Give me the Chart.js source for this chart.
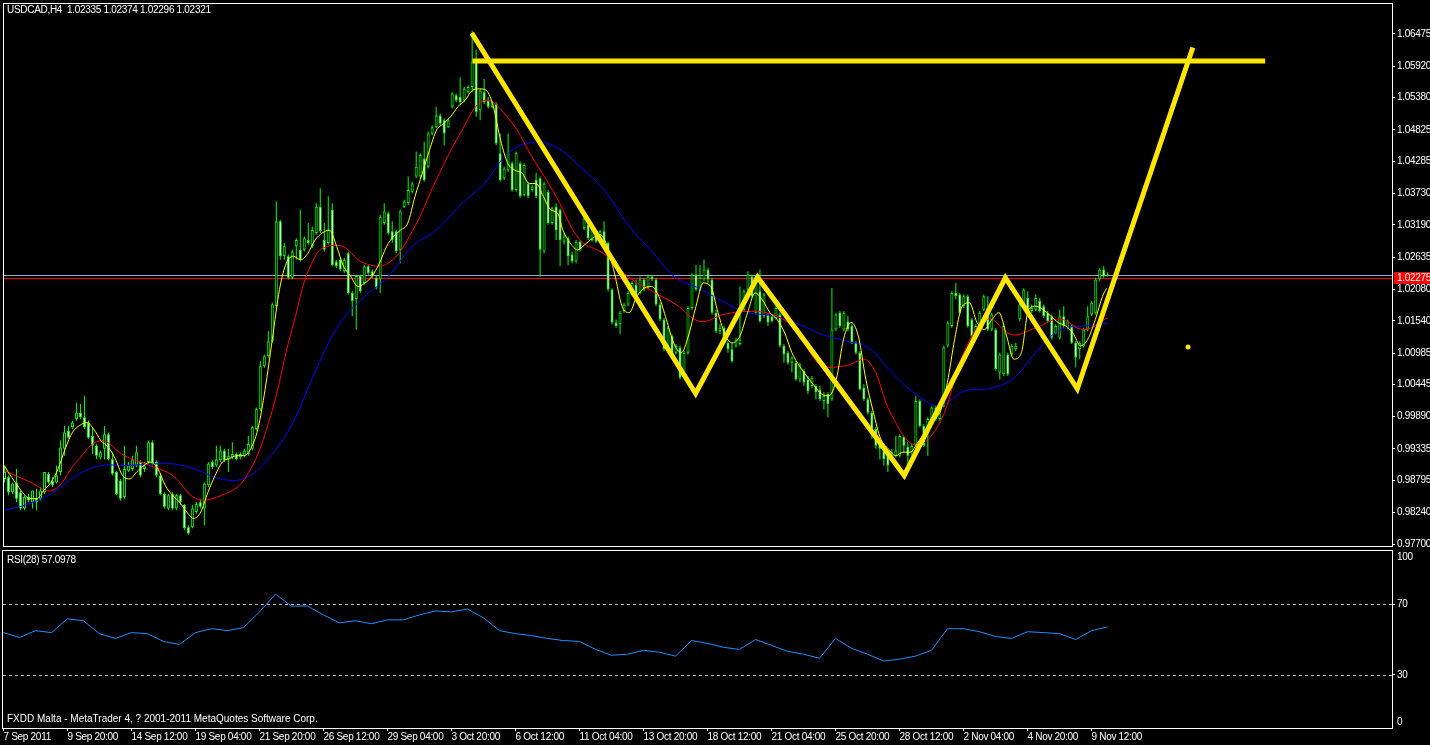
<!DOCTYPE html>
<html>
<head>
<meta charset="utf-8">
<script src="https://cdn.jsdelivr.net/npm/chart.js@4.4.0/dist/chart.umd.min.js"></script>
<style>
  html, body { margin: 0; padding: 0; background: #000; }
  body { width: 1430px; height: 745px; position: relative; overflow: hidden; font-family: "Liberation Sans", Arial, sans-serif; }
  canvas { position: absolute; left: 0; }
  #main { top: 0; }
  #rsi { top: 550px; }
  .label { position: absolute; color: #fff; font-size: 10px; line-height: 12px; white-space: pre; letter-spacing: -0.3px; }
</style>
</head>
<body>
<canvas id="main" width="1430" height="550"></canvas>
<canvas id="rsi" width="1430" height="195"></canvas>
<div class="label" style="left:7px; top:4px">USDCAD,H4  1.02335 1.02374 1.02296 1.02321</div>
<div class="label" style="left:7px; top:554px">RSI(28) 57.0978</div>
<div class="label" style="left:7px; top:713px; letter-spacing:0">FXDD Malta - MetaTrader 4, ? 2001-2011 MetaQuotes Software Corp.</div>
<script>
// H4 candles, one entry per bar (bar 0 = first visible bar)
const opens = [
  0.9882,0.9885,0.9859,0.9876,0.9859,0.9831,0.9851,0.9842,0.9848,0.9848,
  0.9859,0.9891,0.9879,0.9876,0.9894,0.9934,0.9965,0.9971,0.9985,0.9996,
  0.9988,0.9979,0.9956,0.9939,0.9919,0.9934,0.9959,0.9916,0.9894,0.9879,
  0.9851,0.9896,0.9899,0.9905,0.9911,0.9899,0.9911,0.9945,0.9911,0.9888,
  0.9856,0.9831,0.9856,0.9831,0.9854,0.9837,0.9799,0.9799,0.9825,0.9842,
  0.9831,0.9871,0.9911,0.9905,0.9914,0.9931,0.9916,0.9919,0.9925,0.9919,
  0.9922,0.9925,0.9934,0.9968,1.0002,1.0076,1.0093,1.0119,1.0179,1.0325,
  1.0265,1.0265,1.0228,1.0282,1.0276,1.0276,1.0293,1.0282,1.0305,1.0350,
  1.0293,1.0288,1.0345,1.0256,1.0259,1.0239,1.0270,1.0202,1.0191,1.0231,
  1.0219,1.0248,1.0239,1.0228,1.0225,1.0322,1.0339,1.0308,1.0308,1.0276,
  1.0350,1.0356,1.0376,1.0402,1.0402,1.0433,1.0419,1.0476,1.0487,1.0507,
  1.0499,1.0487,1.0522,1.0542,1.0539,1.0533,1.0547,1.0556,1.0600,1.0516,
  1.0547,1.0533,1.0522,1.0527,1.0442,1.0399,1.0413,1.0425,1.0379,1.0425,
  1.0370,1.0390,1.0379,1.0396,1.0399,1.0273,1.0376,1.0322,1.0350,1.0345,
  1.0290,1.0296,1.0268,1.0256,1.0290,1.0313,1.0319,1.0293,1.0308,1.0290,
  1.0308,1.0288,1.0208,1.0151,1.0148,1.0171,1.0182,1.0199,1.0216,1.0202,
  1.0225,1.0210,1.0230,1.0225,1.0182,1.0156,1.0111,1.0128,1.0099,1.0108,
  1.0065,1.0099,1.0176,1.0233,1.0208,1.0225,1.0242,1.0225,1.0168,1.0136,
  1.0142,1.0116,1.0105,1.0111,1.0114,1.0173,1.0208,1.0230,1.0168,1.0205,
  1.0162,1.0165,1.0162,1.0159,1.0165,1.0111,1.0099,1.0082,1.0082,1.0053,
  1.0068,1.0053,1.0042,1.0042,1.0036,1.0016,1.0028,1.0019,1.0139,1.0168,
  1.0139,1.0153,1.0145,1.0116,1.0099,1.0039,1.0019,0.9996,0.9968,0.9945,
  0.9939,0.9928,0.9916,0.9922,0.9922,0.9954,0.9937,0.9928,0.9939,1.0016,
  0.9973,0.9962,0.9985,1.0005,0.9985,1.0008,1.0111,1.0145,1.0202,1.0199,
  1.0179,1.0196,1.0156,1.0128,1.0145,1.0173,1.0176,1.0139,1.0139,1.0065,
  1.0062,1.0096,1.0096,1.0105,1.0156,1.0179,1.0193,1.0171,1.0173,1.0188,
  1.0179,1.0168,1.0162,1.0133,1.0125,1.0162,1.0142,1.0145,1.0116,1.0105,
  1.0111,1.0139,1.0165,1.0168,1.0225,1.0242,1.02335
];
const highs = [
  0.9905,0.9888,0.9876,0.9899,0.9862,0.9854,0.9856,0.9862,0.9865,0.9868,
  0.9894,0.9894,0.9885,0.9905,0.9948,0.9973,0.9973,0.9982,1.0013,1.0011,
  1.0025,0.9982,0.9971,0.9942,0.9931,0.9973,0.9962,0.9928,0.9896,0.9882,
  0.9939,0.9911,0.9922,0.9939,0.9914,0.9911,0.9948,0.9948,0.9914,0.9891,
  0.9859,0.9856,0.9859,0.9856,0.9856,0.9839,0.9802,0.9837,0.9842,0.9848,
  0.9876,0.9911,0.9914,0.9939,0.9939,0.9934,0.9934,0.9945,0.9928,0.9928,
  0.9934,0.9956,0.9973,1.0005,1.0085,1.0096,1.0136,1.0185,1.0359,1.0328,
  1.0288,1.0268,1.0276,1.0296,1.0345,1.0299,1.0322,1.0316,1.0356,1.0382,
  1.0322,1.0368,1.0356,1.0259,1.0262,1.0262,1.0273,1.0205,1.0233,1.0233,
  1.0250,1.0250,1.0242,1.0231,1.0336,1.0356,1.0342,1.0325,1.0310,1.0345,
  1.0362,1.0402,1.0393,1.0445,1.0442,1.0462,1.0479,1.0490,1.0522,1.0510,
  1.0502,1.0502,1.0547,1.0545,1.0573,1.0556,1.0559,1.0653,1.0620,1.0553,
  1.0570,1.0539,1.0533,1.0530,1.0476,1.0419,1.0476,1.0428,1.0445,1.0428,
  1.0425,1.0393,1.0388,1.0408,1.0402,1.0393,1.0379,1.0350,1.0356,1.0347,
  1.0305,1.0299,1.0273,1.0293,1.0293,1.0333,1.0325,1.0316,1.0310,1.0310,
  1.0325,1.0290,1.0210,1.0156,1.0171,1.0185,1.0205,1.0222,1.0225,1.0230,
  1.0228,1.0233,1.0233,1.0228,1.0185,1.0159,1.0145,1.0131,1.0114,1.0111,
  1.0102,1.0179,1.0236,1.0250,1.0250,1.0259,1.0245,1.0228,1.0173,1.0148,
  1.0145,1.0119,1.0116,1.0125,1.0213,1.0208,1.0239,1.0233,1.0233,1.0242,
  1.0202,1.0168,1.0165,1.0179,1.0168,1.0114,1.0102,1.0093,1.0085,1.0082,
  1.0071,1.0059,1.0059,1.0045,1.0042,1.0031,1.0031,1.0210,1.0168,1.0171,
  1.0171,1.0162,1.0148,1.0119,1.0102,1.0045,1.0022,0.9999,0.9971,0.9948,
  0.9942,0.9931,0.9934,0.9956,0.9959,0.9956,0.9945,0.9942,1.0025,1.0019,
  0.9976,0.9988,1.0008,1.0008,1.0011,1.0111,1.0153,1.0205,1.0219,1.0202,
  1.0199,1.0199,1.0159,1.0148,1.0171,1.0199,1.0196,1.0168,1.0142,1.0099,
  1.0148,1.0099,1.0114,1.0116,1.0185,1.0210,1.0205,1.0182,1.0199,1.0193,
  1.0182,1.0171,1.0165,1.0148,1.0173,1.0179,1.0156,1.0148,1.0119,1.0119,
  1.0142,1.0179,1.0188,1.0228,1.0245,1.0248,1.02374
];
const lows = [
  0.9876,0.9854,0.9856,0.9842,0.9828,0.9828,0.9842,0.9831,0.9828,0.9845,
  0.9856,0.9874,0.9868,0.9874,0.9888,0.9922,0.9951,0.9968,0.9982,0.9985,
  0.9968,0.9951,0.9925,0.9916,0.9916,0.9916,0.9914,0.9888,0.9854,0.9845,
  0.9848,0.9894,0.9896,0.9902,0.9885,0.9894,0.9908,0.9905,0.9885,0.9854,
  0.9831,0.9828,0.9828,0.9828,0.9837,0.9794,0.9786,0.9797,0.9822,0.9831,
  0.9802,0.9868,0.9899,0.9902,0.9911,0.9911,0.9894,0.9916,0.9914,0.9916,
  0.9919,0.9922,0.9931,0.9965,0.9999,1.0073,1.0091,1.0116,1.0176,1.0259,
  1.0259,1.0225,1.0225,1.0259,1.0256,1.0273,1.0285,1.0279,1.0302,1.0305,
  1.0273,1.0285,1.0248,1.0245,1.0239,1.0236,1.0199,1.0162,1.0139,1.0202,
  1.0216,1.0233,1.0228,1.0208,1.0202,1.0319,1.0302,1.0288,1.0270,1.0253,
  1.0348,1.0353,1.0373,1.0399,1.0399,1.0393,1.0416,1.0473,1.0485,1.0490,
  1.0456,1.0485,1.0519,1.0530,1.0527,1.0530,1.0545,1.0547,1.0505,1.0499,
  1.0527,1.0519,1.0519,1.0456,1.0393,1.0396,1.0410,1.0376,1.0376,1.0365,
  1.0368,1.0365,1.0376,1.0365,1.0230,1.0270,1.0319,1.0319,1.0293,1.0248,
  1.0285,1.0250,1.0253,1.0253,1.0273,1.0310,1.0293,1.0290,1.0288,1.0288,
  1.0285,1.0205,1.0148,1.0142,1.0131,1.0168,1.0179,1.0196,1.0193,1.0199,
  1.0205,1.0208,1.0222,1.0179,1.0153,1.0102,1.0108,1.0091,1.0096,1.0053,
  1.0059,1.0096,1.0173,1.0205,1.0205,1.0222,1.0219,1.0165,1.0133,1.0131,
  1.0114,1.0099,1.0082,1.0108,1.0111,1.0171,1.0205,1.0193,1.0165,1.0151,
  1.0159,1.0145,1.0151,1.0156,1.0108,1.0082,1.0079,1.0065,1.0051,1.0048,
  1.0042,1.0028,1.0039,1.0019,1.0016,1.0002,0.9988,1.0016,1.0136,1.0142,
  1.0136,1.0136,1.0114,1.0096,1.0034,1.0016,0.9993,0.9951,0.9934,0.9916,
  0.9905,0.9894,0.9911,0.9919,0.9919,0.9928,0.9894,0.9922,0.9937,0.9971,
  0.9937,0.9922,0.9982,0.9982,0.9982,1.0005,1.0108,1.0142,1.0191,1.0165,
  1.0176,1.0142,1.0125,1.0125,1.0142,1.0171,1.0136,1.0136,1.0068,1.0053,
  1.0059,1.0059,1.0093,1.0102,1.0153,1.0176,1.0168,1.0168,1.0171,1.0168,
  1.0159,1.0151,1.0122,1.0131,1.0122,1.0142,1.0139,1.0114,1.0074,1.0088,
  1.0108,1.0136,1.0162,1.0165,1.0222,1.0228,1.02296
];
const closes = [
  0.9894,0.9859,0.9874,0.9848,0.9831,0.9851,0.9845,0.9862,0.9842,0.9862,
  0.9894,0.9876,0.9871,0.9888,0.9936,0.9962,0.9953,0.9979,0.9996,0.9988,
  0.9971,0.9953,0.9939,0.9922,0.9928,0.9959,0.9916,0.9891,0.9856,0.9848,
  0.9899,0.9905,0.9916,0.9928,0.9888,0.9905,0.9945,0.9908,0.9888,0.9856,
  0.9834,0.9854,0.9831,0.9854,0.9842,0.9797,0.9788,0.9831,0.9839,0.9834,
  0.9874,0.9908,0.9902,0.9916,0.9931,0.9914,0.9922,0.9925,0.9916,0.9925,
  0.9931,0.9942,0.9971,1.0002,1.0076,1.0093,1.0119,1.0182,1.0325,1.0265,
  1.0282,1.0228,1.0273,1.0293,1.0259,1.0296,1.0288,1.0310,1.0350,1.0308,
  1.0276,1.0310,1.0250,1.0248,1.0242,1.0259,1.0202,1.0188,1.0231,1.0205,
  1.0248,1.0236,1.0231,1.0211,1.0333,1.0342,1.0305,1.0293,1.0273,1.0342,
  1.0359,1.0379,1.0390,1.0419,1.0439,1.0396,1.0476,1.0487,1.0507,1.0493,
  1.0476,1.0499,1.0545,1.0533,1.0530,1.0553,1.0556,1.0600,1.0513,1.0550,
  1.0530,1.0522,1.0530,1.0459,1.0396,1.0416,1.0442,1.0379,1.0442,1.0368,
  1.0422,1.0368,1.0385,1.0368,1.0276,1.0390,1.0322,1.0347,1.0310,1.0293,
  1.0299,1.0265,1.0256,1.0290,1.0276,1.0330,1.0296,1.0313,1.0290,1.0308,
  1.0288,1.0208,1.0151,1.0145,1.0168,1.0182,1.0202,1.0219,1.0196,1.0225,
  1.0208,1.0230,1.0225,1.0182,1.0156,1.0105,1.0142,1.0093,1.0111,1.0056,
  1.0099,1.0176,1.0233,1.0208,1.0228,1.0242,1.0225,1.0168,1.0136,1.0142,
  1.0116,1.0105,1.0085,1.0122,1.0122,1.0205,1.0233,1.0196,1.0230,1.0153,
  1.0199,1.0151,1.0153,1.0176,1.0111,1.0096,1.0082,1.0091,1.0053,1.0079,
  1.0048,1.0033,1.0056,1.0031,1.0019,1.0025,1.0011,1.0139,1.0165,1.0145,
  1.0168,1.0139,1.0116,1.0099,1.0036,1.0019,0.9996,0.9968,0.9939,0.9934,
  0.9916,0.9905,0.9928,0.9931,0.9956,0.9939,0.9922,0.9939,1.0016,0.9973,
  0.9939,0.9985,1.0005,0.9985,1.0008,1.0108,1.0151,1.0202,1.0196,1.0168,
  1.0196,1.0145,1.0128,1.0145,1.0168,1.0196,1.0139,1.0165,1.0071,1.0096,
  1.0145,1.0062,1.0111,1.0111,1.0182,1.0208,1.0171,1.0176,1.0193,1.0171,
  1.0162,1.0153,1.0125,1.0145,1.0162,1.0145,1.0153,1.0116,1.0091,1.0116,
  1.0139,1.0162,1.0185,1.0225,1.0242,1.0230,1.02321
];

// fast moving average (yellow), read at these bar positions
const yellowBars = [
  0,0.9,2.7,4.5,6.3,8.1,9.8,11.6,13.4,15.2,17.0,18.8,20.6,22.3,24.1,25.9,27.7,29.5,31.3,33.1,
  34.8,36.6,38.4,40.2,42.0,43.8,45.6,47.3,49.1,50.9,52.7,54.5,56.3,58.1,59.8,61.6,63.4,65.2,67.0,68.8,
  70.5,72.3,74.1,75.9,77.7,79.5,81.3,83.1,84.8,86.6,88.4,90.2,92.0,93.8,95.6,97.3,99.1,100.9,102.7,104.5,
  106.3,108.1,109.8,111.6,113.4,115.2,117.0,118.8,120.6,122.3,124.1,125.9,127.7,129.5,131.3,133.0,134.8,136.6,138.4,
  139.7,141.5,143.4,145.2,147.1,149.0,150.8,152.6,154.5,156.3,158.2,160.0,161.9,163.7,165.6,167.4,169.3,171.1,173.0,174.8,
  176.7,178.5,180.4,182.2,184.0,185.9,187.8,189.6,191.5,193.3,195.2,197.0,198.9,200.7,202.6,204.4,206.3,208.1,209.9,211.8,
  213.6,215.5,217.4,219.2,221.1,222.9,224.8,226.6,228.5,230.3,232.2,234.0,235.9,237.7,239.6,241.4,243.3,245.1,247.0,248.8,
  250.7,252.5,254.4,256.2,258.1,259.9,261.8,263.6,265.5,267.3,269.2,271.0,272.9,274.7,275.7
];
const yellowMA = [
  0.9905,0.9894,0.9876,0.9859,0.9848,0.9848,0.9862,0.9876,0.9899,0.9934,0.9962,0.9974,0.9979,0.9968,0.9948,0.9937,0.9917,0.9888,0.9882,0.9894,
  0.9905,0.9911,0.9899,0.9871,0.9854,0.9842,0.9825,0.9814,0.9825,0.9859,0.9888,0.9911,0.9917,0.9922,0.9922,0.9934,0.9968,1.0036,1.0122,1.0208,
  1.0253,1.0265,1.0259,1.0270,1.0293,1.0305,1.0310,1.0282,1.0248,1.0231,1.0213,1.0219,1.0231,1.0253,1.0282,1.0299,1.0310,1.0322,1.0368,1.0407,
  1.0447,1.0482,1.0493,1.0505,1.0522,1.0533,1.0550,1.0553,1.0550,1.0522,1.0465,1.0425,1.0413,1.0408,1.0390,1.0390,1.0368,1.0345,1.0339,
  1.0310,1.0288,1.0276,1.0285,1.0296,1.0302,1.0282,1.0236,1.0179,1.0168,1.0196,1.0210,1.0213,1.0196,1.0156,1.0116,1.0099,1.0128,1.0179,1.0219,
  1.0213,1.0168,1.0128,1.0116,1.0128,1.0168,1.0202,1.0190,1.0168,1.0156,1.0133,1.0099,1.0076,1.0059,1.0042,1.0028,1.0025,1.0053,1.0122,1.0151,
  1.0128,1.0053,0.9996,0.9951,0.9934,0.9922,0.9928,0.9928,0.9945,0.9962,0.9985,0.9996,1.0048,1.0122,1.0179,1.0185,1.0151,1.0139,1.0156,1.0168,
  1.0128,1.0088,1.0099,1.0173,1.0179,1.0173,1.0162,1.0151,1.0145,1.0133,1.0111,1.0122,1.0156,1.0196,1.0210
];
// slower averages, one value every 6 bars
const redStep = 6;
const redMA = [
  0.9896,0.9878,0.9862,0.9911,0.9948,0.9922,0.9906,0.9888,0.9848,0.9853,
  0.9881,0.9977,1.0141,1.0268,1.0283,1.0253,1.0253,1.0308,1.0396,1.0476,
  1.0533,1.0503,1.0436,1.0368,1.0293,1.0269,1.0230,1.0205,1.0182,1.0153,
  1.0165,1.0170,1.0165,1.0139,1.0079,1.0076,1.0085,0.9991,0.9940,0.9979,
  1.0099,1.0157,1.0130,1.0142,1.0157,1.0139,1.0159
];
const blueStep = 6;
const blueMA = [
  0.9828,0.9839,0.9858,0.9888,0.9905,0.9905,0.9907,0.9908,0.9898,0.9882,
  0.9883,0.9917,0.9977,1.0071,1.0151,1.0195,1.0230,1.0282,1.0310,1.0353,
  1.0390,1.0442,1.0461,1.0453,1.0419,1.0379,1.0319,1.0273,1.0228,1.0209,
  1.0186,1.0168,1.0163,1.0150,1.0132,1.0120,1.0108,1.0065,1.0028,1.0008,
  1.0033,1.0037,1.0053,1.0099,1.0138,1.0145,1.0150
];

// RSI(28), one value every 4 bars
const rsiStep = 4;
const rsiValues = [
  53.9,51.1,55.0,53.9,61.7,60.6,53.3,50.6,53.9,53.3,
  48.9,47.2,53.9,56.1,55.0,56.7,65.6,75.6,68.9,68.9,
  63.9,59.4,60.6,58.9,61.1,61.1,63.9,66.1,65.6,67.2,
  62.2,55.0,53.3,52.2,50.6,49.4,48.9,44.4,41.1,41.7,
  43.9,42.8,40.6,49.4,47.8,45.6,44.4,50.0,46.7,43.3,
  41.7,39.4,50.6,45.0,41.7,37.8,38.9,40.6,43.9,56.1,
  56.1,54.4,51.7,50.6,54.4,53.9,53.3,50.0,55.0,57.1
];
const rsiLevels = [30, 70];

// hand drawn objects (bar, price)
const patternBars = [116.9, 172.9, 188.4, 225.1, 250.4, 268.4, 297.3];
const patternPrices = [1.0649, 1.0029, 1.0229, 0.9888, 1.0228, 1.0037, 1.0624];
const targetBars = [117.1, 315.4];
const targetPrice = 1.0601;
const dotBar = 296.1;
const dotPrice = 1.0109;

const bidPrice = 1.02321;
const markPrice = 1.02275;

const priceTicks = [1.06475,1.05920,1.05380,1.04825,1.04285,1.03730,1.03190,1.02635,
  1.02080,1.01540,1.00985,1.00445,0.99890,0.99335,0.98795,0.98240,0.97700];
const timeTickBars = [0,16,32,48,64,80,96,112,128,144,160,176,192,208,224,240,256,272];
const timeTickLabels = ["7 Sep 2011","9 Sep 20:00","14 Sep 12:00","19 Sep 04:00","21 Sep 20:00",
  "26 Sep 12:00","29 Sep 04:00","3 Oct 20:00","6 Oct 12:00","11 Oct 04:00","13 Oct 20:00",
  "18 Oct 12:00","21 Oct 04:00","25 Oct 20:00","28 Oct 12:00","2 Nov 04:00","4 Nov 20:00","9 Nov 12:00"];

const BAR_MIN = -0.125, BAR_MAX = 347.125;
const LIME = '#00ff00', GOLD = '#ffe600';
const FONT = '10px "Liberation Sans", Arial, sans-serif';

Chart.defaults.font.family = '"Liberation Sans", Arial, sans-serif';
Chart.defaults.font.size = 10;
Chart.defaults.color = '#ffffff';

const idx = closes.map((_, i) => i);
const wickData = idx.map(i => ({ x: i, y: [lows[i], highs[i]] }));
const bodyData = idx.map(i => ({ x: i, y: [Math.min(opens[i], closes[i]), Math.max(opens[i], closes[i])] }));
const bodyFill = idx.map(i => closes[i] >= opens[i] ? '#000000' : '#ffffff');
const sampled = (vals, step) => vals.map((v, k) => ({ x: k * step, y: v }));

// narrower text, closer to the terminal font
const tightText = {
  id: 'tightText',
  beforeDraw(chart) { chart.ctx.letterSpacing = '-0.3px'; }
};

const mainFrame = {
  id: 'mainFrame',
  beforeDatasetsDraw(chart) {
    const { ctx, chartArea: a, scales: { y } } = chart;
    ctx.save();
    ctx.lineWidth = 1;
    [[bidPrice, '#9aa8ba'], [markPrice, '#ff0000']].forEach(([p, c]) => {
      const py = Math.round(y.getPixelForValue(p)) + 0.5;
      ctx.strokeStyle = c;
      ctx.beginPath(); ctx.moveTo(a.left, py); ctx.lineTo(a.right, py); ctx.stroke();
    });
    ctx.restore();
  },
  afterDraw(chart) {
    const { ctx, chartArea: a, scales: { y } } = chart;
    ctx.save();
    ctx.strokeStyle = '#ffffff';
    ctx.lineWidth = 1;
    ctx.strokeRect(a.left - 0.5, a.top - 0.5, a.right - a.left + 1, a.bottom - a.top + 1);
    const py = Math.round(y.getPixelForValue(markPrice));
    ctx.fillStyle = '#ff0000';
    ctx.fillRect(a.right + 2, py - 6, 1430 - a.right - 2, 12);
    ctx.fillStyle = '#ffffff';
    ctx.font = FONT;
    ctx.textBaseline = 'middle';
    ctx.fillText(markPrice.toFixed(5), a.right + 5, py);
    ctx.restore();
  }
};

new Chart(document.getElementById('main'), {
  type: 'bar',
  data: {
    datasets: [
      { type: 'line', data: patternBars.map((b, k) => ({ x: b, y: patternPrices[k] })),
        borderColor: GOLD, borderWidth: 5, pointRadius: 0, borderJoinStyle: 'miter', order: 1 },
      { type: 'line', data: targetBars.map(b => ({ x: b, y: targetPrice })),
        borderColor: GOLD, borderWidth: 5, pointRadius: 0, order: 1 },
      { type: 'line', data: [{ x: dotBar, y: dotPrice }], showLine: false,
        pointRadius: 2.5, pointBackgroundColor: GOLD, pointBorderWidth: 0, order: 1 },
      { type: 'line', data: yellowBars.map((b, k) => ({ x: b, y: yellowMA[k] })), borderColor: '#ffff00',
        borderWidth: 1, pointRadius: 0, cubicInterpolationMode: 'monotone', order: 3 },
      { type: 'line', data: sampled(redMA, redStep), borderColor: '#ff0000', borderWidth: 1, pointRadius: 0, tension: 0.4, order: 4 },
      { type: 'line', data: sampled(blueMA, blueStep), borderColor: '#0000ff', borderWidth: 1, pointRadius: 0, tension: 0.4, order: 5 },
      { data: bodyData, backgroundColor: bodyFill, borderColor: LIME, borderWidth: 1, borderSkipped: false,
        grouped: false, barThickness: 3, maxBarThickness: 3, barPercentage: 0.75, categoryPercentage: 1,
        inflateAmount: 0, order: 8 },
      { data: wickData, backgroundColor: LIME, borderWidth: 0,
        grouped: false, barThickness: 1, maxBarThickness: 1, barPercentage: 0.75, categoryPercentage: 1,
        inflateAmount: 0, order: 9 }
    ]
  },
  options: {
    responsive: false,
    animation: false,
    devicePixelRatio: 1,
    events: [],
    layout: { padding: { left: 3, top: 3, right: 0, bottom: 3 } },
    plugins: { legend: { display: false }, tooltip: { enabled: false } },
    scales: {
      x: { type: 'linear', min: BAR_MIN, max: BAR_MAX, display: false, offset: false },
      y: {
        type: 'linear', position: 'right', min: 0.97666, max: 1.06989, beginAtZero: false,
        afterBuildTicks: s => { s.ticks = priceTicks.map(v => ({ value: v })); },
        afterFit: s => { s.width = 38; s.paddingTop = 0; s.paddingBottom = 0; },
        ticks: { color: '#ffffff', padding: 2, autoSkip: false, callback: v => v.toFixed(5) },
        grid: { drawOnChartArea: false, drawTicks: true, tickLength: 3, color: '#ffffff' },
        border: { display: false }
      }
    }
  },
  plugins: [tightText, mainFrame]
});

const rsiFrame = {
  id: 'rsiFrame',
  beforeDatasetsDraw(chart) {
    const { ctx, chartArea: a, scales: { y } } = chart;
    ctx.save();
    ctx.strokeStyle = '#c0c0c0';
    ctx.lineWidth = 1;
    ctx.setLineDash([3, 3]);
    rsiLevels.forEach(v => {
      const py = Math.round(y.getPixelForValue(v)) + 0.5;
      ctx.beginPath(); ctx.moveTo(a.left, py); ctx.lineTo(a.right, py); ctx.stroke();
    });
    ctx.restore();
  },
  afterDraw(chart) {
    const { ctx, chartArea: a } = chart;
    ctx.save();
    ctx.strokeStyle = '#ffffff';
    ctx.lineWidth = 1;
    ctx.strokeRect(a.left - 0.5, a.top - 0.5, a.right - a.left + 1, a.bottom - a.top + 1);
    ctx.fillStyle = '#ffffff';
    ctx.font = FONT;
    ctx.textBaseline = 'middle';
    ctx.fillText('100', a.right + 5, a.top + 6);
    ctx.fillText('0', a.right + 5, a.bottom - 6);
    ctx.restore();
  }
};

new Chart(document.getElementById('rsi'), {
  type: 'line',
  data: {
    datasets: [
      { data: sampled(rsiValues, rsiStep), borderColor: '#1e90ff', borderWidth: 1, pointRadius: 0, tension: 0 }
    ]
  },
  options: {
    responsive: false,
    animation: false,
    devicePixelRatio: 1,
    events: [],
    layout: { padding: { left: 3, top: 1, right: 0, bottom: 0 } },
    plugins: { legend: { display: false }, tooltip: { enabled: false } },
    scales: {
      x: {
        type: 'linear', min: BAR_MIN, max: BAR_MAX, offset: false,
        afterBuildTicks: s => { s.ticks = timeTickBars.map(v => ({ value: v })); },
        afterFit: s => { s.height = 17; s.paddingLeft = 0; s.paddingRight = 0; },
        ticks: { color: '#ffffff', autoSkip: false, maxRotation: 0, align: 'start', padding: 0,
                 callback: (v, i) => timeTickLabels[i] },
        grid: { drawOnChartArea: false, drawTicks: true, tickLength: 3, color: '#ffffff' },
        border: { display: false }
      },
      y: {
        type: 'linear', position: 'right', min: 0, max: 100,
        afterBuildTicks: s => { s.ticks = rsiLevels.map(v => ({ value: v })); },
        afterFit: s => { s.width = 38; s.paddingTop = 0; s.paddingBottom = 0; },
        ticks: { color: '#ffffff', padding: 2 },
        grid: { drawOnChartArea: false, drawTicks: true, tickLength: 3, color: '#ffffff' },
        border: { display: false }
      }
    }
  },
  plugins: [tightText, rsiFrame]
});
</script>
</body>
</html>
